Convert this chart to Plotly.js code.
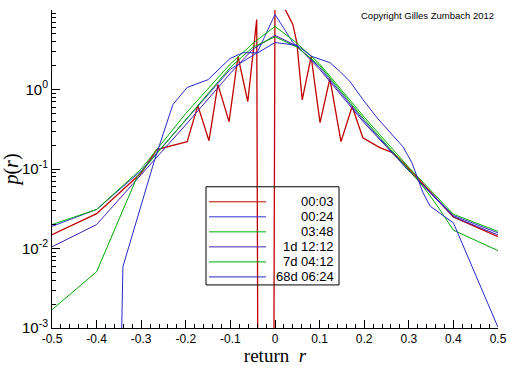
<!DOCTYPE html>
<html><head><meta charset="utf-8">
<script src="https://cdn.plot.ly/plotly-3.0.1.min.js"></script>
<style>html,body{margin:0;padding:0;background:#fff}#chart{width:512px;height:366px}</style>
</head><body><div id="chart"></div>
<script>
// series labels
const labels = ["00:03", "00:24", "03:48", "1d 12:12", "7d 04:12", "68d 06:24"];
const colors = ["#c00000", "#3030d0", "#00b000", "#4020b0", "#00a800", "#2828c8"];

// 00:03
const x0 = [-0.5,-0.4,-0.3,-0.265,-0.197,-0.173,-0.148,-0.128,-0.103,-0.083,-0.061,-0.041,-0.037,-0.004,0.0,0.04,0.049,0.061,0.081,0.101,0.123,0.148,0.173,0.197,0.235,0.265,0.296,0.4,0.5];
const y0 = [0.0149,0.0274,0.089,0.175,0.221,0.627,0.227,1.15,0.394,2.6,0.705,7.6,1e-6,1e-6,18,6.6,3.9,0.74,2.6,0.383,1.37,0.221,0.61,0.247,0.186,0.16,0.107,0.025,0.0141];
// 00:24
const x1 = [-0.5,-0.4,-0.3,-0.2,-0.1,-0.04,0.0,0.04,0.1,0.2,0.3,0.4,0.5];
const y1 = [0.019,0.031,0.095,0.42,1.8,2.9,8.8,3.9,1.9,0.4,0.095,0.026,0.0157];
// 03:48
const x2 = [-0.5,-0.4,-0.3,-0.2,-0.1,-0.045,0.0,0.045,0.1,0.2,0.3,0.4,0.5];
const y2 = [0.020,0.031,0.10,0.5,2.1,4.0,6.2,4.0,2.1,0.45,0.105,0.027,0.0164];
// 1d 12:12
const x3 = [-0.5,-0.4,-0.3,-0.2,-0.1,-0.05,0.0,0.05,0.1,0.2,0.3,0.4,0.5];
const y3 = [0.0105,0.02,0.085,0.36,1.6,3.2,4.8,3.5,1.8,0.38,0.095,0.025,0.0148];
// 7d 04:12
const x4 = [-0.5,-0.4,-0.309,-0.2,-0.1,-0.05,0.0,0.05,0.1,0.2,0.318,0.343,0.363,0.4,0.5];
const y4 = [0.0017,0.0051,0.08,0.42,1.9,3.4,4.6,3.4,2.0,0.42,0.075,0.05,0.035,0.017,0.0094];
// 68d 06:24
const x5 = [-0.354,-0.341,-0.27,-0.229,-0.197,-0.150,-0.101,-0.072,-0.038,0.0,0.049,0.083,0.123,0.146,0.168,0.197,0.229,0.258,0.287,0.307,0.332,0.348,0.4,0.5];
const y5 = [1e-6,0.0059,0.13,0.645,1.06,1.33,2.45,2.9,2.9,3.9,3.6,2.6,2.18,1.68,1.26,0.75,0.44,0.29,0.19,0.12,0.05,0.034,0.021,0.00102];

const xTickVals = [-0.5,-0.4,-0.3,-0.2,-0.1,0,0.1,0.2,0.3,0.4,0.5];
const xTickText = ["-0.5","-0.4","-0.3","-0.2","-0.1","0","0.1","0.2","0.3","0.4","0.5"];
const yTickVals = [0.001,0.01,0.1,1,10];
const yTickText = ["10<sup>-3</sup>","10<sup>-2</sup>","10<sup>-1</sup>","10<sup>0</sup>","10<sup>1</sup>"];

const xs = [x0,x1,x2,x3,x4,x5];
const ys = [y0,y1,y2,y3,y4,y5];
const traces = xs.map((x,i)=>({x:x, y:ys[i], type:'scatter', mode:'lines', name:labels[i],
  line:{color:colors[i], width: i===0?1.3:1}, showlegend:false, cliponaxis:true}));

// custom legend (box, sample lines, right-aligned labels)
const L = 52, W = 446, B = 328, H = 317.5;
const px = v => (v - L)/W, py = v => (B - v)/H;
const shapes = [{type:'rect', xref:'paper', yref:'paper', x0:px(206), x1:px(339), y0:py(285), y1:py(187),
  line:{color:'#000', width:1}, fillcolor:'rgba(0,0,0,0)'}];
const annotations = [];
labels.forEach((lab,i)=>{
  const yy = py(202 + 15*i);
  shapes.push({type:'line', xref:'paper', yref:'paper', x0:px(209), x1:px(266), y0:yy, y1:yy, line:{color:colors[i], width:1}});
  annotations.push({xref:'paper', yref:'paper', x:px(336), y:yy, xanchor:'right', yanchor:'middle', text:lab, showarrow:false,
    font:{family:'Liberation Sans, Arial, sans-serif', size:13, color:'#000'}});
});
annotations.push({xref:'paper', yref:'paper', x:px(359), y:py(16), xanchor:'left', yanchor:'middle', showarrow:false,
  text:'Copyright Gilles Zumbach 2012', font:{family:'Liberation Sans, Arial, sans-serif', size:9.5, color:'#000'}});

const layout = {
  width:512, height:366, margin:{l:52, r:14, t:10, b:38},
  paper_bgcolor:'#fff', plot_bgcolor:'#fff', showlegend:false,
  xaxis:{range:[-0.5,0.5], tickvals:xTickVals, ticktext:xTickText, ticks:'inside', ticklen:8, tickcolor:'#000',
    showline:true, linecolor:'#000', linewidth:1, showgrid:false, zeroline:false, mirror:false,
    tickfont:{family:'Liberation Sans, Arial, sans-serif', size:12, color:'#000'},
    minor:{dtick:0.02, ticks:'inside', ticklen:4, tickcolor:'#000', showgrid:false},
    title:{text:'return  <i>r</i>', font:{family:'Liberation Serif, Times New Roman, serif', size:19, color:'#000'}, standoff:6}},
  yaxis:{type:'log', range:[-3,1], tickvals:yTickVals, ticktext:yTickText, ticks:'inside', ticklen:8, tickcolor:'#000',
    showline:true, linecolor:'#000', linewidth:1, showgrid:false, zeroline:false,
    tickfont:{family:'Liberation Sans, Arial, sans-serif', size:15, color:'#000'},
    minor:{dtick:'D1', ticks:'inside', ticklen:4, tickcolor:'#000', showgrid:false},
    title:{text:'<i>p</i>(<i>r</i>)', font:{family:'Liberation Serif, Times New Roman, serif', size:20, color:'#000'}, standoff:4}},
  shapes:shapes, annotations:annotations
};
Plotly.newPlot('chart', traces, layout, {staticPlot:true, displayModeBar:false});
</script></body></html>
